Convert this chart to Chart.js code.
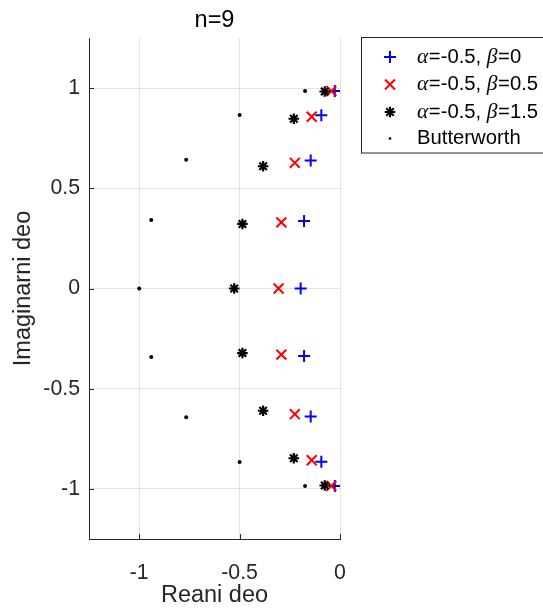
<!DOCTYPE html>
<html>
<head>
<meta charset="utf-8">
<script src="https://cdn.jsdelivr.net/npm/chart.js"></script>
<style>
  html, body { margin: 0; padding: 0; background: #ffffff; }
  canvas { display: block; }
</style>
</head>
<body>
<canvas id="poles" width="543" height="610"></canvas>
<script>
// Pole locations for n = 9 (real and imaginary parts)
const reBeta0   = [-0.026, -0.093, -0.146, -0.179, -0.196, -0.179, -0.146, -0.093, -0.026];
const imBeta0   = [ 0.985,  0.864,  0.639,  0.337,  0.000, -0.337, -0.639, -0.864, -0.985];

const reBeta05  = [-0.043, -0.141, -0.225, -0.292, -0.306, -0.292, -0.225, -0.141, -0.043];
const imBeta05  = [ 0.985,  0.857,  0.627,  0.330,  0.000, -0.330, -0.627, -0.857, -0.985];

const reBeta15  = [-0.076, -0.230, -0.383, -0.486, -0.527, -0.486, -0.383, -0.230, -0.076];
const imBeta15  = [ 0.983,  0.847,  0.610,  0.322,  0.000, -0.322, -0.610, -0.847, -0.983];

const reButter  = [-0.174, -0.500, -0.766, -0.940, -1.000, -0.940, -0.766, -0.500, -0.174];
const imButter  = [ 0.985,  0.866,  0.643,  0.342,  0.000, -0.342, -0.643, -0.866, -0.985];

const seriesNames = ['α=-0.5, β=0', 'α=-0.5, β=0.5', 'α=-0.5, β=1.5', 'Butterworth'];

const xTickValues = [-1, -0.5, 0];
const yTickValues = [-1, -0.5, 0, 0.5, 1];

const titleText = 'n=9';
const xLabel = 'Reani deo';
const yLabel = 'Imaginarni deo';

const SANS = '"Liberation Sans", Arial, Helvetica, sans-serif';
const SERIF = '"Liberation Serif", "DejaVu Serif", serif';
const AXIS_COLOR = '#262626';
const GRID_COLOR = '#e3e3e3';

function toPoints(re, im) {
  return re.map((x, i) => ({ x: x, y: im[i] }));
}

const datasets = [
  { label: seriesNames[0], data: toPoints(reBeta0, imBeta0), pointStyle: 'cross',
    pointRadius: 6, pointBorderWidth: 2, borderColor: '#0000ff', backgroundColor: '#0000ff', order: 3 },
  { label: seriesNames[1], data: toPoints(reBeta05, imBeta05), pointStyle: 'crossRot',
    pointRadius: 7, pointBorderWidth: 2, borderColor: '#ff0000', backgroundColor: '#ff0000', order: 2 },
  { label: seriesNames[2], data: toPoints(reBeta15, imBeta15), pointStyle: 'star',
    pointRadius: 5.3, pointBorderWidth: 2.2, borderColor: '#000000', backgroundColor: '#000000', order: 1 },
  { label: seriesNames[3], data: toPoints(reButter, imButter), pointStyle: 'circle',
    pointRadius: 2, pointBorderWidth: 0, borderColor: '#000000', backgroundColor: '#000000', order: 0 }
];

// Title centred over the plotting area
const titlePlugin = {
  id: 'plotTitle',
  afterDraw(chart) {
    const { ctx, chartArea } = chart;
    ctx.save();
    ctx.font = '23.5px ' + SANS;
    ctx.fillStyle = '#000000';
    ctx.textAlign = 'center';
    ctx.textBaseline = 'middle';
    ctx.fillText(titleText, (chartArea.left + chartArea.right) / 2, 20.5);
    ctx.restore();
  }
};

// Short inward tick marks on the left and bottom axes
const innerTicks = {
  id: 'innerTicks',
  beforeDatasetsDraw(chart) {
    const { ctx, chartArea, scales } = chart;
    const len = 5;
    ctx.save();
    ctx.strokeStyle = AXIS_COLOR;
    ctx.lineWidth = 1;
    ctx.beginPath();
    scales.x.ticks.forEach(t => {
      const px = Math.round(scales.x.getPixelForValue(t.value)) + 0.5;
      ctx.moveTo(px, chartArea.bottom);
      ctx.lineTo(px, chartArea.bottom - len);
    });
    scales.y.ticks.forEach(t => {
      const py = Math.round(scales.y.getPixelForValue(t.value)) + 0.5;
      ctx.moveTo(chartArea.left, py);
      ctx.lineTo(chartArea.left + len, py);
    });
    ctx.stroke();
    ctx.restore();
  }
};

// Legend box with Greek symbols set in italic serif
function drawMixedText(ctx, text, x, y) {
  let cx = x;
  const parts = text.match(/[αβ]|[^αβ]+/g) || [];
  parts.forEach(p => {
    const greek = p === 'α' || p === 'β';
    ctx.font = greek ? 'italic 21.5px ' + SERIF : '20.3px ' + SANS;
    ctx.fillStyle = '#000000';
    ctx.fillText(p, cx, y);
    cx += ctx.measureText(p).width + (greek ? 0.5 : 0);
  });
}

const boxLegend = {
  id: 'boxLegend',
  afterDraw(chart) {
    const { ctx } = chart;
    const left = 361.5, top = 37.5, height = 115.5;
    const rowY = [57, 84.5, 112, 138.5];
    ctx.save();
    ctx.fillStyle = '#ffffff';
    ctx.fillRect(left, top, 300, height);
    ctx.strokeStyle = AXIS_COLOR;
    ctx.lineWidth = 1;
    ctx.strokeRect(left, top, 300, height);
    chart.data.datasets.forEach((ds, i) => {
      ctx.strokeStyle = ds.borderColor;
      ctx.fillStyle = ds.backgroundColor;
      ctx.lineWidth = ds.pointBorderWidth;
      const radius = ds.pointStyle === 'circle' ? 1.3 : ds.pointRadius;
      Chart.helpers.drawPoint(ctx, {
        pointStyle: ds.pointStyle, radius: radius, rotation: 0, borderWidth: ds.pointBorderWidth
      }, 390, rowY[i]);
      ctx.textAlign = 'left';
      ctx.textBaseline = 'middle';
      drawMixedText(ctx, ds.label, 417, rowY[i]);
    });
    ctx.restore();
  }
};

new Chart(document.getElementById('poles').getContext('2d'), {
  type: 'scatter',
  data: { datasets: datasets },
  options: {
    responsive: false,
    animation: false,
    devicePixelRatio: 1,
    layout: { padding: { top: 38, right: 203, left: 0, bottom: 0 } },
    plugins: {
      legend: { display: false },
      tooltip: { enabled: false },
      title: { display: false }
    },
    scales: {
      x: {
        type: 'linear',
        min: -1.25,
        max: 0,
        afterBuildTicks: s => { s.ticks = xTickValues.map(v => ({ value: v })); },
        afterFit: s => { s.height = 71; },
        ticks: {
          font: { family: SANS, size: 21.3 },
          color: AXIS_COLOR,
          padding: 21,
          maxRotation: 0,
          autoSkip: false,
          callback: v => String(v)
        },
        grid: { color: GRID_COLOR, drawTicks: false },
        border: { color: AXIS_COLOR, width: 1 },
        title: {
          display: true, text: xLabel, color: AXIS_COLOR,
          font: { family: SANS, size: 23.5 }, padding: { top: 0, bottom: 0 }
        }
      },
      y: {
        type: 'linear',
        min: -1.25,
        max: 1.25,
        afterBuildTicks: s => { s.ticks = yTickValues.map(v => ({ value: v })); },
        afterFit: s => { s.width = 89; },
        ticks: {
          font: { family: SANS, size: 21.3 },
          color: AXIS_COLOR,
          padding: 9,
          autoSkip: false,
          callback: v => String(v)
        },
        grid: { color: GRID_COLOR, drawTicks: false },
        border: { color: AXIS_COLOR, width: 1 },
        title: {
          display: true, text: yLabel, color: AXIS_COLOR,
          font: { family: SANS, size: 23.5 }, padding: { top: 9, bottom: 0 }
        }
      }
    }
  },
  plugins: [titlePlugin, innerTicks, boxLegend]
});
</script>
</body>
</html>
